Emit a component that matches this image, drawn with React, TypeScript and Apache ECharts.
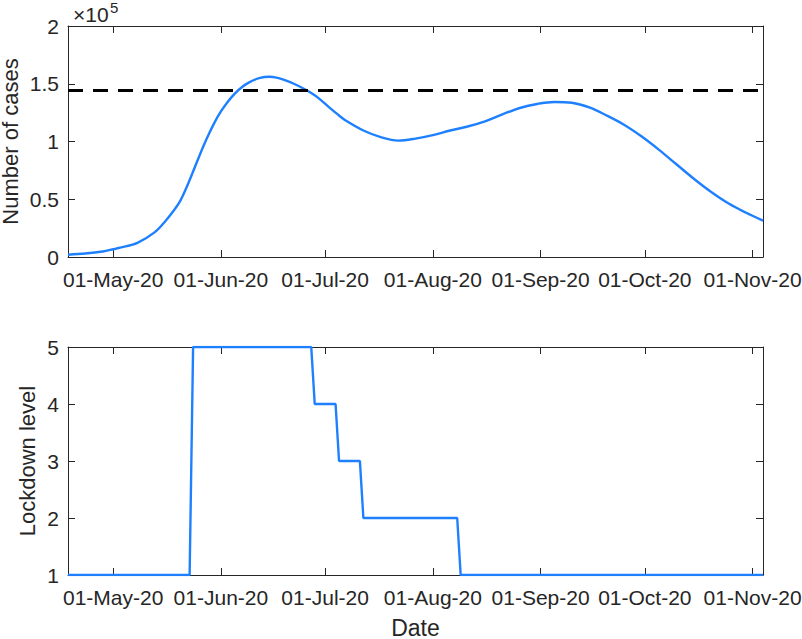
import React, { useEffect, useRef } from "react";
import * as echarts from "echarts";

// ---- data ----
const caseDates = [
  "2020-04-18", "2020-04-23", "2020-04-28", "2020-05-01", "2020-05-03", "2020-05-08",
  "2020-05-13", "2020-05-16", "2020-05-18", "2020-05-20", "2020-05-22", "2020-05-24",
  "2020-05-26", "2020-05-28", "2020-05-30", "2020-06-01", "2020-06-03", "2020-06-05",
  "2020-06-07", "2020-06-09", "2020-06-12", "2020-06-15", "2020-06-17", "2020-06-19",
  "2020-06-22", "2020-06-25", "2020-06-27", "2020-06-29", "2020-07-02", "2020-07-05",
  "2020-07-07", "2020-07-12", "2020-07-17", "2020-07-22", "2020-07-27", "2020-08-01",
  "2020-08-06", "2020-08-11", "2020-08-16", "2020-08-21", "2020-08-26", "2020-08-31",
  "2020-09-05", "2020-09-10", "2020-09-15", "2020-09-20", "2020-09-25", "2020-09-30",
  "2020-10-05", "2020-10-10", "2020-10-15", "2020-10-20", "2020-10-25", "2020-10-30",
  "2020-11-04",
];
const caseValues = [
  2000, 3000, 4800, 6700, 8100, 12300,
  21500, 31000, 38500, 47000, 59500, 74000,
  89000, 103000, 115500, 126000, 134500, 141500,
  147000, 151000, 154800, 156000, 155300, 153500,
  150000, 145500, 142000, 137800, 130000, 122500,
  118000, 109500, 103800, 100800, 102500, 105500,
  109500, 113000, 117500, 123500, 129000, 132500,
  134200, 133500, 129500, 122500, 114500, 104500,
  93000, 80500, 68000, 56500, 46500, 38500,
  31500,
];
const thresholdValue = 144000;

const lockdownDates = [
  "2020-04-18", "2020-05-23", "2020-05-24", "2020-06-27", "2020-06-28", "2020-07-04",
  "2020-07-05", "2020-07-11", "2020-07-12", "2020-08-08", "2020-08-09", "2020-11-04",
];
const lockdownLevels = [1, 1, 5, 5, 4, 4, 3, 3, 2, 2, 1, 1];

const monthTicks = [
  "2020-05-01", "2020-06-01", "2020-07-01", "2020-08-01",
  "2020-09-01", "2020-10-01", "2020-11-01",
];
const xStart = "2020-04-18";
const xEnd = "2020-11-04";
const caseTicks = [0, 50000, 100000, 150000, 200000];
const levelTicks = [1, 2, 3, 4, 5];

// ---- helpers ----
const ts = (s: string) => {
  const [y, m, d] = s.split("-").map(Number);
  return Date.UTC(y, m - 1, d);
};
const MONTHS = ["Jan", "Feb", "Mar", "Apr", "May", "Jun", "Jul", "Aug", "Sep", "Oct", "Nov", "Dec"];
const fmtDate = (v: number) => {
  const d = new Date(v);
  return `${String(d.getUTCDate()).padStart(2, "0")}-${MONTHS[d.getUTCMonth()]}-${String(
    d.getUTCFullYear() % 100
  ).padStart(2, "0")}`;
};

const FONT = "'Liberation Sans', Arial, Helvetica, sans-serif";
const AX = "#262626";
const BLUE = "#1f80ff";

export default function App() {
  const ref = useRef<HTMLDivElement>(null);
  useEffect(() => {
    if (!ref.current) return;
    const chart = echarts.init(ref.current, undefined, { renderer: "svg" });
    const tickVals = monthTicks.map(ts);
    const xMin = ts(xStart);
    const xMax = ts(xEnd);

    const baseX = (grid: number, pos: "top" | "bottom", labels: boolean, name?: string) => ({
      type: "value" as const,
      gridIndex: grid,
      position: pos,
      min: xMin,
      max: xMax,
      name: name,
      nameLocation: "middle" as const,
      nameGap: 41,
      nameMoveOverlap: false,
      nameTextStyle: { fontFamily: FONT, fontSize: 23, color: AX },
      axisLine: { show: true, onZero: false, lineStyle: { color: AX, width: 1 } },
      axisTick: {
        show: true,
        inside: true,
        length: 7,
        customValues: tickVals,
        lineStyle: { color: AX, width: 1 },
      },
      axisLabel: {
        show: labels,
        customValues: tickVals,
        formatter: (v: number) => fmtDate(v),
        fontFamily: FONT,
        fontSize: 21,
        color: AX,
        margin: 12,
      },
      splitLine: { show: false },
    });

    const baseY = (
      grid: number,
      pos: "left" | "right",
      labels: boolean,
      min: number,
      max: number,
      interval: number,
      fmt: (v: number) => string,
      name?: string,
      nameGap?: number
    ) => ({
      type: "value" as const,
      gridIndex: grid,
      position: pos,
      min,
      max,
      interval,
      name,
      nameLocation: "middle" as const,
      nameGap,
      nameMoveOverlap: false,
      nameTextStyle: { fontFamily: FONT, fontSize: 22, color: AX },
      axisLine: { show: true, lineStyle: { color: AX, width: 1 } },
      axisTick: { show: true, inside: true, length: 7, lineStyle: { color: AX, width: 1 } },
      axisLabel: {
        show: labels,
        formatter: fmt,
        fontFamily: FONT,
        fontSize: 21,
        color: AX,
        margin: 9,
      },
      splitLine: { show: false },
    });

    chart.setOption({
      animation: false,
      backgroundColor: "#ffffff",
      grid: [
        { left: 68, top: 26, width: 695, height: 231, containLabel: false, outerBoundsMode: "none" },
        { left: 68, top: 347, width: 695, height: 228, containLabel: false, outerBoundsMode: "none" },
      ],
      xAxis: [
        baseX(0, "bottom", true),
        baseX(0, "top", false),
        baseX(1, "bottom", true, "Date"),
        baseX(1, "top", false),
      ],
      yAxis: [
        baseY(0, "left", true, caseTicks[0], caseTicks[caseTicks.length - 1], 50000,
          (v: number) => String(v / 100000), "Number of cases", 47),
        baseY(0, "right", false, caseTicks[0], caseTicks[caseTicks.length - 1], 50000,
          (v: number) => String(v / 100000)),
        baseY(1, "left", true, levelTicks[0], levelTicks[levelTicks.length - 1], 1,
          (v: number) => String(v), "Lockdown level", 30),
        baseY(1, "right", false, levelTicks[0], levelTicks[levelTicks.length - 1], 1,
          (v: number) => String(v)),
      ],
      series: [
        {
          type: "line",
          xAxisIndex: 0,
          yAxisIndex: 0,
          data: caseDates.map((d, i) => [ts(d), caseValues[i]]),
          showSymbol: false,
          smooth: 0.35,
          lineStyle: { color: BLUE, width: 2.4 },
          markLine: {
            silent: true,
            symbol: "none",
            label: { show: false },
            lineStyle: { color: "#000000", width: 2.8, type: [15, 10] },
            data: [{ yAxis: thresholdValue }],
          },
          z: 3,
        },
        {
          type: "line",
          xAxisIndex: 2,
          yAxisIndex: 2,
          data: lockdownDates.map((d, i) => [ts(d), lockdownLevels[i]]),
          showSymbol: false,
          lineStyle: { color: BLUE, width: 2.4 },
          z: 3,
        },
      ],
      graphic: [
        {
          type: "text",
          left: 73,
          top: 4,
          style: { text: "×10", fontFamily: FONT, fontSize: 21, fill: AX },
        },
        {
          type: "text",
          left: 110,
          top: 0,
          style: { text: "5", fontFamily: FONT, fontSize: 15, fill: AX },
        },
      ],
    });
    return () => chart.dispose();
  }, []);
  return (
    <div
      ref={ref}
      style={{ position: "fixed", left: 0, top: 0, width: 802, height: 639, background: "#fff" }}
    />
  );
}
